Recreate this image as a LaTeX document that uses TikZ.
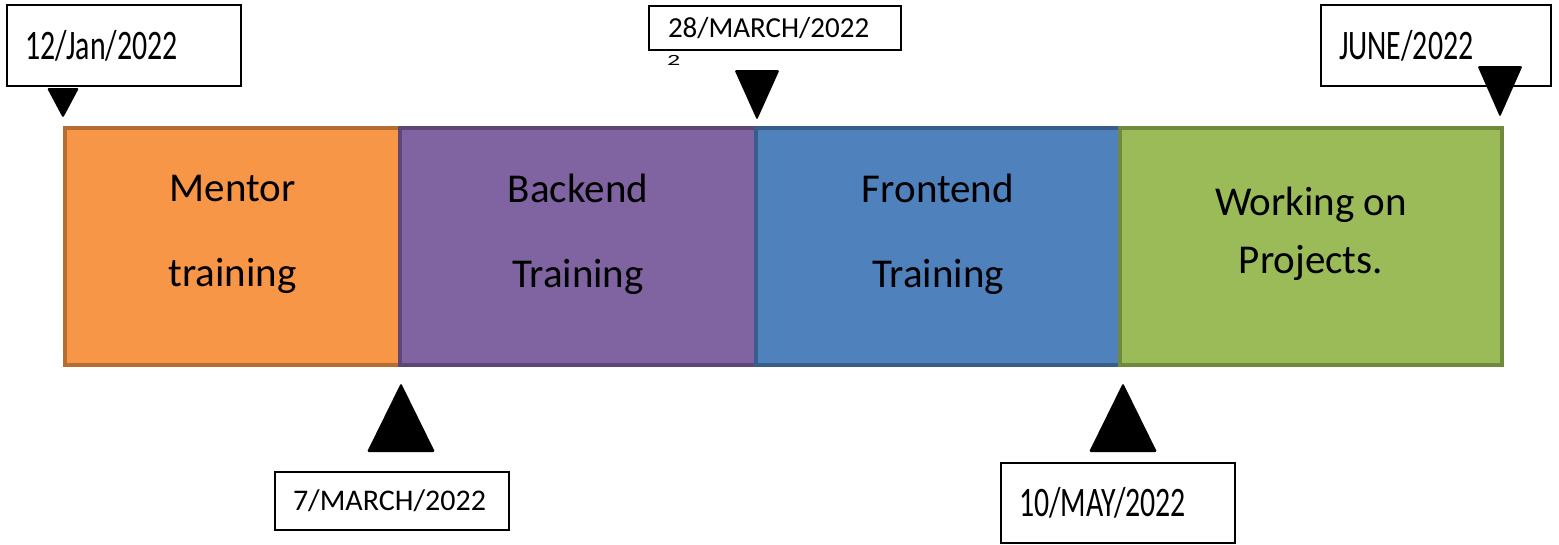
\documentclass[tikz,border=0pt]{standalone}
\usepackage{fontspec}
\setmainfont{Carlito}
\usetikzlibrary{positioning}
% colours of the four phases
\definecolor{mentorfill}{HTML}{F79646}
\definecolor{mentorline}{HTML}{B66D31}
\definecolor{backfill}{HTML}{8064A2}
\definecolor{backline}{HTML}{5C4776}
\definecolor{frontfill}{HTML}{4F81BD}
\definecolor{frontline}{HTML}{385D8A}
\definecolor{projfill}{HTML}{9BBB59}
\definecolor{projline}{HTML}{71893F}
% strut that lifts the two text lines a bit inside a phase box
\newcommand{\phasestrut}{\rule[-32pt]{0pt}{0pt}}
% condensed date text
\newcommand{\narrowdate}[1]{\scalebox{0.71}[1]{\fontsize{42}{42}\selectfont #1}}
\begin{document}
\begin{tikzpicture}[x=1pt,y=-1pt]
        % Styles for the phases, dates and markers
        \tikzset{
            phase/.style={
                draw,
                rectangle,
                line width=4pt,
                minimum height=237pt,
                outer sep=0pt,
                inner sep=0pt,
                align=center
            },
            datebox/.style={
                draw,
                rectangle,
                line width=2.5pt,
                anchor=north west,
                inner xsep=18pt,
                inner ysep=0pt,
                outer sep=0pt,
                align=left
            },
            marker/.style={
                fill=black,
                rounded corners=1.5pt
            }
        }
        \useasboundingbox (0,0) rectangle (1559,544);
        % The four phases, side by side
        \node[phase, fill=mentorfill, draw=mentorline, minimum width=335pt,
            font=\fontsize{41}{85}\selectfont] (mentor) at (232.5,246.5)
            {Mentor\\training\phasestrut};
        \node[phase, fill=backfill, draw=backline, minimum width=356pt,
            font=\fontsize{41}{85}\selectfont, right=0pt of mentor] (backend)
            {Backend\\Training\phasestrut};
        \node[phase, fill=frontfill, draw=frontline, minimum width=364pt,
            font=\fontsize{41}{85}\selectfont, right=0pt of backend] (frontend)
            {Frontend\\Training\phasestrut};
        \node[phase, fill=projfill, draw=projline, minimum width=382pt,
            font=\fontsize{41}{58}\selectfont, right=0pt of frontend] (projects)
            {Working on\\Projects.\phasestrut};
        % Dates above the timeline
        \node[datebox, text width=198pt, minimum height=81pt] (jan) at (7,5)
            {\narrowdate{12/Jan/2022}};
        \node[datebox, text width=214pt, inner xsep=19pt, minimum height=44pt,
            font=\fontsize{29}{29}\selectfont] (marchlate) at (649,6)
            {28/MARCH/2022};
        \node[anchor=base west, inner sep=0pt] (marchlatetail) at (667,65)
            {\fontsize{26}{26}\selectfont\scalebox{1}[0.6]{2}};
        \node[datebox, text width=194pt, minimum height=81pt] (june) at (1321,5)
            {\narrowdate{JUNE/2022}};
        % Dates below the timeline
        \node[datebox, text width=198pt, minimum height=58pt,
            font=\fontsize{30}{30}\selectfont] (marchearly) at (275,472)
            {7/MARCH/2022};
        \node[datebox, text width=198pt, minimum height=80pt] (may) at (1001,463)
            {\narrowdate{10/MAY/2022}};
        % Markers pointing at the phase borders
        \fill[marker] ([xshift=-2pt,yshift=10pt]mentor.north west)
            -- ++(-16,-30) -- ++(32,0) -- cycle;
        \fill[marker] ([xshift=1pt,yshift=8pt]backend.north east)
            -- ++(-22.5,-50) -- ++(45,0) -- cycle;
        \fill[marker] ([xshift=-2pt,yshift=11pt]projects.north east)
            -- ++(-22.5,-51) -- ++(45,0) -- cycle;
        \fill[marker] ([xshift=1pt,yshift=-18pt]mentor.south east)
            -- ++(-34,69) -- ++(68,0) -- cycle;
        \fill[marker] ([xshift=3pt,yshift=-18pt]frontend.south east)
            -- ++(-34,69) -- ++(68,0) -- cycle;
\end{tikzpicture}
\end{document}
